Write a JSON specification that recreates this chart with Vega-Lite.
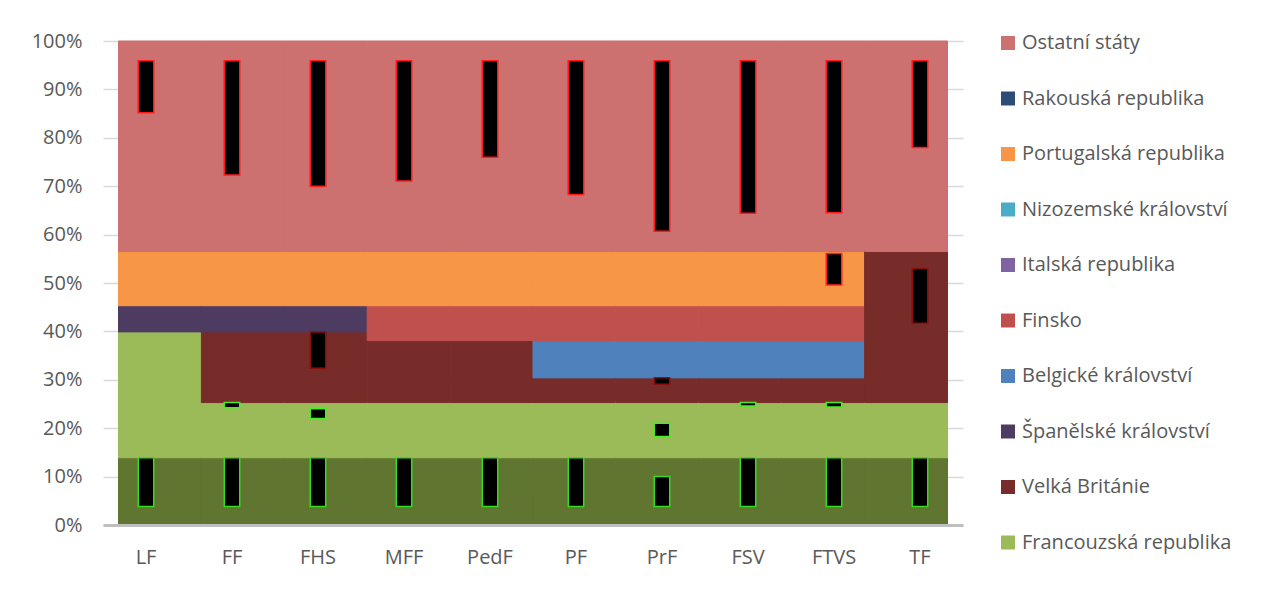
{
  "$schema": "https://vega.github.io/schema/vega-lite/v6.json",
  "width": 860,
  "height": 484,
  "padding": {"left": 31, "top": 31, "right": 5, "bottom": 5},
  "background": "white",
  "config": {
    "font": "Open Sans",
    "view": {"stroke": null},
    "axis": {"labelFont": "Open Sans", "labelFontSize": 20, "labelColor": "#595959", "title": null}
  },
  "datasets": {
    "podily": [
      {"fakulta": "LF", "zeme": "Spolková republika Německo", "podil": 13.9},
      {"fakulta": "LF", "zeme": "Francouzská republika", "podil": 26.0},
      {"fakulta": "LF", "zeme": "Španělské království", "podil": 5.4},
      {"fakulta": "LF", "zeme": "Portugalská republika", "podil": 11.2},
      {"fakulta": "LF", "zeme": "Ostatní státy", "podil": 43.5},
      {"fakulta": "FF", "zeme": "Spolková republika Německo", "podil": 13.9},
      {"fakulta": "FF", "zeme": "Francouzská republika", "podil": 11.4},
      {"fakulta": "FF", "zeme": "Velká Británie", "podil": 14.6},
      {"fakulta": "FF", "zeme": "Španělské království", "podil": 5.4},
      {"fakulta": "FF", "zeme": "Portugalská republika", "podil": 11.2},
      {"fakulta": "FF", "zeme": "Ostatní státy", "podil": 43.5},
      {"fakulta": "FHS", "zeme": "Spolková republika Německo", "podil": 13.9},
      {"fakulta": "FHS", "zeme": "Francouzská republika", "podil": 11.4},
      {"fakulta": "FHS", "zeme": "Velká Británie", "podil": 14.6},
      {"fakulta": "FHS", "zeme": "Španělské království", "podil": 5.4},
      {"fakulta": "FHS", "zeme": "Portugalská republika", "podil": 11.2},
      {"fakulta": "FHS", "zeme": "Ostatní státy", "podil": 43.5},
      {"fakulta": "MFF", "zeme": "Spolková republika Německo", "podil": 13.9},
      {"fakulta": "MFF", "zeme": "Francouzská republika", "podil": 11.4},
      {"fakulta": "MFF", "zeme": "Velká Británie", "podil": 12.8},
      {"fakulta": "MFF", "zeme": "Finsko", "podil": 7.2},
      {"fakulta": "MFF", "zeme": "Portugalská republika", "podil": 11.2},
      {"fakulta": "MFF", "zeme": "Ostatní státy", "podil": 43.5},
      {"fakulta": "PedF", "zeme": "Spolková republika Německo", "podil": 13.9},
      {"fakulta": "PedF", "zeme": "Francouzská republika", "podil": 11.4},
      {"fakulta": "PedF", "zeme": "Velká Británie", "podil": 12.8},
      {"fakulta": "PedF", "zeme": "Finsko", "podil": 7.2},
      {"fakulta": "PedF", "zeme": "Portugalská republika", "podil": 11.2},
      {"fakulta": "PedF", "zeme": "Ostatní státy", "podil": 43.5},
      {"fakulta": "PF", "zeme": "Spolková republika Německo", "podil": 13.9},
      {"fakulta": "PF", "zeme": "Francouzská republika", "podil": 11.4},
      {"fakulta": "PF", "zeme": "Velká Británie", "podil": 5.1},
      {"fakulta": "PF", "zeme": "Belgické království", "podil": 7.7},
      {"fakulta": "PF", "zeme": "Finsko", "podil": 7.2},
      {"fakulta": "PF", "zeme": "Portugalská republika", "podil": 11.2},
      {"fakulta": "PF", "zeme": "Ostatní státy", "podil": 43.5},
      {"fakulta": "PrF", "zeme": "Spolková republika Německo", "podil": 13.9},
      {"fakulta": "PrF", "zeme": "Francouzská republika", "podil": 11.4},
      {"fakulta": "PrF", "zeme": "Velká Británie", "podil": 5.1},
      {"fakulta": "PrF", "zeme": "Belgické království", "podil": 7.7},
      {"fakulta": "PrF", "zeme": "Finsko", "podil": 7.2},
      {"fakulta": "PrF", "zeme": "Portugalská republika", "podil": 11.2},
      {"fakulta": "PrF", "zeme": "Ostatní státy", "podil": 43.5},
      {"fakulta": "FSV", "zeme": "Spolková republika Německo", "podil": 13.9},
      {"fakulta": "FSV", "zeme": "Francouzská republika", "podil": 11.4},
      {"fakulta": "FSV", "zeme": "Velká Británie", "podil": 5.1},
      {"fakulta": "FSV", "zeme": "Belgické království", "podil": 7.7},
      {"fakulta": "FSV", "zeme": "Finsko", "podil": 7.2},
      {"fakulta": "FSV", "zeme": "Portugalská republika", "podil": 11.2},
      {"fakulta": "FSV", "zeme": "Ostatní státy", "podil": 43.5},
      {"fakulta": "FTVS", "zeme": "Spolková republika Německo", "podil": 13.9},
      {"fakulta": "FTVS", "zeme": "Francouzská republika", "podil": 11.4},
      {"fakulta": "FTVS", "zeme": "Velká Británie", "podil": 5.1},
      {"fakulta": "FTVS", "zeme": "Belgické království", "podil": 7.7},
      {"fakulta": "FTVS", "zeme": "Finsko", "podil": 7.2},
      {"fakulta": "FTVS", "zeme": "Portugalská republika", "podil": 11.2},
      {"fakulta": "FTVS", "zeme": "Ostatní státy", "podil": 43.5},
      {"fakulta": "TF", "zeme": "Spolková republika Německo", "podil": 13.9},
      {"fakulta": "TF", "zeme": "Francouzská republika", "podil": 11.4},
      {"fakulta": "TF", "zeme": "Velká Británie", "podil": 31.2},
      {"fakulta": "TF", "zeme": "Ostatní státy", "podil": 43.5}
    ],
    "artefakty": [
      {"fakulta": "LF", "oblast": "Ostatní státy", "od": 85.2, "do": 95.9},
      {"fakulta": "FF", "oblast": "Ostatní státy", "od": 72.3, "do": 95.9},
      {"fakulta": "FHS", "oblast": "Ostatní státy", "od": 70.0, "do": 95.9},
      {"fakulta": "MFF", "oblast": "Ostatní státy", "od": 71.1, "do": 95.9},
      {"fakulta": "PedF", "oblast": "Ostatní státy", "od": 76.0, "do": 95.9},
      {"fakulta": "PF", "oblast": "Ostatní státy", "od": 68.3, "do": 95.9},
      {"fakulta": "PrF", "oblast": "Ostatní státy", "od": 60.7, "do": 95.9},
      {"fakulta": "FSV", "oblast": "Ostatní státy", "od": 64.4, "do": 95.9},
      {"fakulta": "FTVS", "oblast": "Ostatní státy", "od": 64.5, "do": 95.9},
      {"fakulta": "TF", "oblast": "Ostatní státy", "od": 78.0, "do": 95.9},
      {"fakulta": "LF", "oblast": "Spolková republika Německo", "od": 3.8, "do": 13.9},
      {"fakulta": "FF", "oblast": "Spolková republika Německo", "od": 3.8, "do": 13.9},
      {"fakulta": "FHS", "oblast": "Spolková republika Německo", "od": 3.8, "do": 13.9},
      {"fakulta": "MFF", "oblast": "Spolková republika Německo", "od": 3.8, "do": 13.9},
      {"fakulta": "PedF", "oblast": "Spolková republika Německo", "od": 3.8, "do": 13.9},
      {"fakulta": "PF", "oblast": "Spolková republika Německo", "od": 3.8, "do": 13.9},
      {"fakulta": "PrF", "oblast": "Spolková republika Německo", "od": 3.8, "do": 10.0},
      {"fakulta": "FSV", "oblast": "Spolková republika Německo", "od": 3.8, "do": 13.9},
      {"fakulta": "FTVS", "oblast": "Spolková republika Německo", "od": 3.8, "do": 13.9},
      {"fakulta": "TF", "oblast": "Spolková republika Německo", "od": 3.8, "do": 13.9},
      {"fakulta": "FF", "oblast": "Francouzská republika", "od": 24.2, "do": 25.3},
      {"fakulta": "FHS", "oblast": "Francouzská republika", "od": 22.0, "do": 24.0},
      {"fakulta": "FHS", "oblast": "Velká Británie", "od": 32.4, "do": 39.9},
      {"fakulta": "PrF", "oblast": "Francouzská republika", "od": 18.3, "do": 21.0},
      {"fakulta": "PrF", "oblast": "Velká Británie", "od": 29.1, "do": 30.4},
      {"fakulta": "FSV", "oblast": "Francouzská republika", "od": 24.6, "do": 25.3},
      {"fakulta": "FTVS", "oblast": "Francouzská republika", "od": 24.4, "do": 25.3},
      {"fakulta": "FTVS", "oblast": "Portugalská republika", "od": 49.6, "do": 56.1},
      {"fakulta": "TF", "oblast": "Velká Británie", "od": 41.7, "do": 53.0}
    ]
  },
  "layer": [
    {
      "data": {"name": "podily"},
      "transform": [
        {"calculate": "indexof(['Spolková republika Německo','Francouzská republika','Velká Británie','Španělské království','Belgické království','Finsko','Italská republika','Nizozemské království','Portugalská republika','Rakouská republika','Ostatní státy'], datum.zeme)", "as": "poradi"}
      ],
      "mark": {"type": "bar", "strokeWidth": 1},
      "encoding": {
        "x": {
          "field": "fakulta", "type": "nominal",
          "sort": ["LF", "FF", "FHS", "MFF", "PedF", "PF", "PrF", "FSV", "FTVS", "TF"],
          "scale": {"paddingInner": 0, "paddingOuter": 0.187},
          "axis": null
        },
        "y": {
          "field": "podil", "type": "quantitative", "stack": "zero",
          "scale": {"domain": [0, 100], "nice": false},
          "axis": {
            "values": [0, 10, 20, 30, 40, 50, 60, 70, 80, 90, 100],
            "labelExpr": "datum.value + '%'",
            "domain": false, "ticks": false, "tickSize": 0, "labelPadding": 21,
            "grid": true, "gridColor": "#d9d9d9", "gridWidth": 1.5
          }
        },
        "order": {"field": "poradi", "type": "quantitative", "sort": "ascending"},
        "color": {
          "field": "zeme", "type": "nominal",
          "scale": {
            "domain": ["Ostatní státy", "Rakouská republika", "Portugalská republika", "Nizozemské království", "Italská republika", "Finsko", "Belgické království", "Španělské království", "Velká Británie", "Francouzská republika", "Spolková republika Německo"],
            "range": ["#cd7070", "#2c4d75", "#f79646", "#4bacc6", "#8064a2", "#c0504d", "#4f81bd", "#4d3b62", "#772c2a", "#9bbb59", "#5f7530"]
          },
          "legend": {
            "title": null,
            "orient": "none",
            "legendX": 895,
            "legendY": -8,
            "padding": 0,
            "values": ["Ostatní státy", "Rakouská republika", "Portugalská republika", "Nizozemské království", "Italská republika", "Finsko", "Belgické království", "Španělské království", "Velká Británie", "Francouzská republika"],
            "symbolType": "square",
            "symbolSize": 196,
            "symbolStrokeWidth": 0,
            "labelFont": "Open Sans",
            "labelFontSize": 20,
            "labelColor": "#595959",
            "labelOffset": 4,
            "rowPadding": 35.5,
            "labelLimit": 400
          }
        },
        "stroke": {
          "field": "zeme", "type": "nominal",
          "scale": {
            "domain": ["Ostatní státy", "Rakouská republika", "Portugalská republika", "Nizozemské království", "Italská republika", "Finsko", "Belgické království", "Španělské království", "Velká Británie", "Francouzská republika", "Spolková republika Německo"],
            "range": ["#cd7070", "#2c4d75", "#f79646", "#4bacc6", "#8064a2", "#c0504d", "#4f81bd", "#4d3b62", "#772c2a", "#9bbb59", "#5f7530"]
          },
          "legend": null
        }
      }
    },
    {
      "data": {"name": "artefakty"},
      "mark": {"type": "bar", "fill": "black", "strokeWidth": 1.5, "width": {"band": 0.18}},
      "encoding": {
        "x": {
          "field": "fakulta", "type": "nominal",
          "sort": ["LF", "FF", "FHS", "MFF", "PedF", "PF", "PrF", "FSV", "FTVS", "TF"],
          "scale": {"paddingInner": 0, "paddingOuter": 0},
          "axis": {
            "labelAngle": 0, "ticks": false, "tickSize": 0, "labelPadding": 22,
            "domain": true, "domainColor": "#bfbfbf", "domainWidth": 3, "zindex": 1
          }
        },
        "y": {"field": "od", "type": "quantitative"},
        "y2": {"field": "do"},
        "stroke": {
          "field": "oblast", "type": "nominal",
          "scale": {
            "domain": ["Ostatní státy", "Spolková republika Německo", "Francouzská republika", "Velká Británie", "Portugalská republika"],
            "range": ["#ff1a1a", "#33dd22", "#44ee22", "#8a1010", "#ff2020"]
          },
          "legend": null
        }
      }
    }
  ],
  "resolve": {"scale": {"x": "independent", "color": "independent", "stroke": "independent"}, "axis": {"x": "independent"}}
}
